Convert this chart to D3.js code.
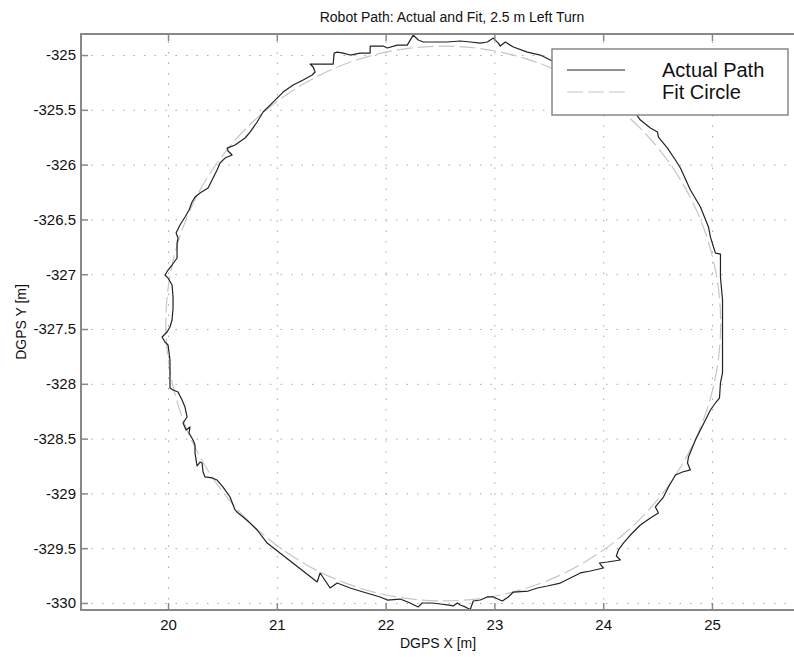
<!DOCTYPE html>
<html>
<head>
<meta charset="utf-8">
<script src="https://cdn.jsdelivr.net/npm/d3@7"></script>
<style>
  body { margin: 0; background: #fff; }
  svg { display: block; font-family: "Liberation Sans", Arial, sans-serif; }
</style>
</head>
<body>
<svg width="794" height="657"></svg>
<script>
// DGPS samples of the actual path, counter-clockwise from the top
const pathX = [23.533, 23.422, 23.303, 23.174, 23.100, 23.054, 23.036, 22.990, 22.935, 22.870,
  22.778, 22.686, 22.567, 22.346, 22.300, 22.254, 22.199, 22.107, 22.015, 21.978,
  21.858, 21.858, 21.766, 21.674, 21.610, 21.555, 21.527, 21.518, 21.306, 21.334,
  21.352, 21.325, 21.242, 21.150, 21.058, 20.966, 20.874, 20.819, 20.754, 20.708,
  20.616, 20.543, 20.552, 20.589, 20.524, 20.478, 20.451, 20.405, 20.368, 20.294,
  20.248, 20.221, 20.193, 20.156, 20.110, 20.074, 20.092, 20.083, 20.083, 20.037,
  20.000, 19.972, 20.000, 20.037, 20.046, 20.046, 20.037, 20.018, 19.991, 19.945,
  19.972, 20.000, 20.018, 20.018, 20.046, 20.092, 20.129, 20.156, 20.175, 20.138,
  20.166, 20.202, 20.193, 20.230, 20.248, 20.248, 20.267, 20.294, 20.313, 20.322,
  20.340, 20.405, 20.451, 20.506, 20.570, 20.616, 20.644, 20.690, 20.754, 20.819,
  20.911, 21.371, 21.398, 21.490, 21.555, 21.674, 21.794, 21.950, 22.015, 22.134,
  22.226, 22.300, 22.337, 22.429, 22.502, 22.567, 22.622, 22.659, 22.686, 22.732,
  22.778, 22.806, 22.870, 22.935, 22.990, 23.073, 23.128, 23.174, 23.312, 23.395,
  23.487, 23.606, 23.698, 23.790, 23.882, 24.002, 23.965, 24.039, 24.158, 24.121,
  24.140, 24.186, 24.250, 24.342, 24.434, 24.508, 24.480, 24.508, 24.554, 24.600,
  24.664, 24.729, 24.802, 24.775, 24.784, 24.848, 24.894, 24.940, 24.986, 25.032,
  25.069, 25.078, 25.097, 25.097, 25.097, 25.078, 25.078, 25.032, 25.014, 24.986,
  24.968, 24.894, 24.802, 24.710, 24.664, 24.591, 24.508, 24.499, 24.434, 24.342,
  24.296, 24.158, 23.882, 23.533];
const pathY = [-325.055, -325.000, -324.973, -324.927, -324.881, -324.918, -324.891, -324.845, -324.881, -324.891,
  -324.881, -324.872, -324.881, -324.881, -324.863, -324.818, -324.909, -324.909, -324.936, -324.918,
  -324.918, -324.982, -324.982, -325.000, -324.982, -324.973, -324.982, -325.082, -325.082, -325.109,
  -325.155, -325.182, -325.228, -325.274, -325.338, -325.429, -325.520, -325.611, -325.703, -325.757,
  -325.821, -325.849, -325.876, -325.912, -325.940, -325.985, -326.049, -326.141, -326.214, -326.259,
  -326.296, -326.341, -326.414, -326.478, -326.551, -326.624, -326.670, -326.715, -326.852, -326.916,
  -326.962, -327.007, -327.035, -327.099, -327.208, -327.308, -327.418, -327.482, -327.527, -327.573,
  -327.619, -327.646, -327.783, -328.038, -328.057, -328.075, -328.148, -328.212, -328.303, -328.358,
  -328.422, -328.394, -328.449, -328.513, -328.558, -328.631, -328.750, -328.714, -328.723, -328.805,
  -328.850, -328.859, -328.878, -328.942, -329.033, -329.151, -329.179, -329.215, -329.270, -329.334,
  -329.453, -329.808, -329.726, -329.863, -329.818, -329.863, -329.900, -329.945, -329.973, -329.964,
  -330.000, -330.036, -330.000, -330.000, -330.009, -330.018, -330.027, -330.000, -330.018, -330.036,
  -330.060, -329.982, -329.973, -329.945, -329.945, -329.982, -329.945, -329.900, -329.891, -329.863,
  -329.845, -329.818, -329.772, -329.726, -329.708, -329.681, -329.635, -329.626, -329.608, -329.571,
  -329.516, -329.453, -329.380, -329.288, -329.224, -329.179, -329.124, -329.088, -329.033, -328.942,
  -328.832, -328.805, -328.786, -328.723, -328.668, -328.513, -328.422, -328.330, -328.239, -328.175,
  -328.130, -327.993, -327.901, -327.536, -327.235, -327.026, -326.816, -326.807, -326.752, -326.661,
  -326.569, -326.387, -326.232, -326.031, -325.958, -325.849, -325.748, -325.703, -325.666, -325.593,
  -325.529, -325.411, -325.228, -325.055];

// least squares fit circle
const fitCenter = [22.53, -327.45];
const fitRadius = 2.55;

const xTicks = [20, 21, 22, 23, 24, 25];
const yTicks = [-325, -325.5, -326, -326.5, -327, -327.5, -328, -328.5, -329, -329.5, -330];
const xDomain = [19.2, 25.8];
const yDomain = [-330.064, -324.808];

const margin = { top: 34, left: 81 },
      width = 718,
      height = 576;

const svg = d3.select("svg");
const g = svg.append("g").attr("transform", `translate(${margin.left},${margin.top})`);

const x = d3.scaleLinear().domain(xDomain).range([0, width]);
const y = d3.scaleLinear().domain(yDomain).range([height, 0]);

// dotted grid
g.append("g")
  .attr("transform", `translate(0,${height})`)
  .call(d3.axisBottom(x).tickValues(xTicks).tickSize(-height).tickFormat(""))
  .call(a => a.select(".domain").remove())
  .selectAll("line")
  .attr("stroke", "#a8a8a8")
  .attr("stroke-dasharray", "1.5,9");

g.append("g")
  .call(d3.axisLeft(y).tickValues(yTicks).tickSize(-width).tickFormat(""))
  .call(a => a.select(".domain").remove())
  .selectAll("line")
  .attr("stroke", "#a8a8a8")
  .attr("stroke-dasharray", "1.5,9");

// fit circle
g.append("circle")
  .attr("cx", x(fitCenter[0]))
  .attr("cy", y(fitCenter[1]))
  .attr("r", x(fitCenter[0] + fitRadius) - x(fitCenter[0]))
  .attr("fill", "none")
  .attr("stroke", "#c6c6c6")
  .attr("stroke-width", 1.2)
  .attr("stroke-dasharray", "16,5");

// actual path
const pts = pathX.map((d, i) => [d, pathY[i]]);
g.append("path")
  .datum(pts)
  .attr("fill", "none")
  .attr("stroke", "#222")
  .attr("stroke-width", 1.2)
  .attr("stroke-linejoin", "round")
  .attr("d", d3.line().x(d => x(d[0])).y(d => y(d[1])));

// axes, ticks inside
const styleAxis = a => {
  a.select(".domain").remove();
  a.selectAll("line").attr("stroke", "#888").attr("stroke-width", 1.5);
  a.selectAll("text").attr("fill", "#111").style("font-size", "15px");
};

g.append("g")
  .attr("transform", `translate(0,${height})`)
  .call(d3.axisBottom(x).tickValues(xTicks).tickSizeInner(-7).tickSizeOuter(0).tickPadding(9).tickFormat(d => String(d)))
  .call(styleAxis);

g.append("g")
  .call(d3.axisTop(x).tickValues(xTicks).tickSizeInner(-7).tickSizeOuter(0).tickFormat(""))
  .call(styleAxis);

g.append("g")
  .call(d3.axisLeft(y).tickValues(yTicks).tickSizeInner(-7).tickSizeOuter(0).tickPadding(5).tickFormat(d => String(d)))
  .call(styleAxis);

g.append("rect")
  .attr("width", width)
  .attr("height", height)
  .attr("fill", "none")
  .attr("stroke", "#888")
  .attr("stroke-width", 2);

// legend
const legend = svg.append("g").attr("transform", "translate(552,49)");
legend.append("rect")
  .attr("width", 236).attr("height", 66)
  .attr("fill", "#fff")
  .attr("stroke", "#888").attr("stroke-width", 1.5);
legend.append("line")
  .attr("x1", 15).attr("x2", 73).attr("y1", 21).attr("y2", 21)
  .attr("stroke", "#222").attr("stroke-width", 1.2);
legend.append("line")
  .attr("x1", 15).attr("x2", 73).attr("y1", 43).attr("y2", 43)
  .attr("stroke", "#c6c6c6").attr("stroke-width", 1.2).attr("stroke-dasharray", "16,5");
legend.append("text").attr("x", 110).attr("y", 28).style("font-size", "20px").attr("fill", "#111").text("Actual Path");
legend.append("text").attr("x", 110).attr("y", 50).style("font-size", "20px").attr("fill", "#111").text("Fit Circle");

// labels
svg.append("text")
  .attr("x", 452).attr("y", 22)
  .attr("text-anchor", "middle")
  .style("font-size", "14px").attr("fill", "#111")
  .text("Robot Path: Actual and Fit, 2.5 m Left Turn");

svg.append("text")
  .attr("x", margin.left + 357).attr("y", 648)
  .attr("text-anchor", "middle")
  .style("font-size", "14px").attr("fill", "#111")
  .text("DGPS X [m]");

svg.append("text")
  .attr("transform", "rotate(-90)")
  .attr("x", -(margin.top + height / 2)).attr("y", 26)
  .attr("text-anchor", "middle")
  .style("font-size", "14px").attr("fill", "#111")
  .text("DGPS Y [m]");
</script>
</body>
</html>
